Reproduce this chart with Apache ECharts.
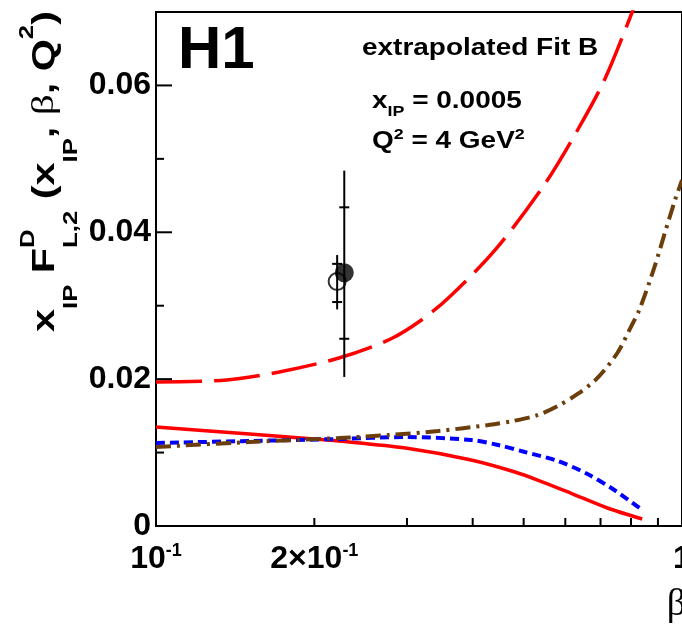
<!DOCTYPE html>
<html>
<head>
<meta charset="utf-8">
<script src="https://cdn.jsdelivr.net/npm/echarts@6/dist/echarts.min.js"></script>
<style>
  html, body { margin: 0; padding: 0; background: #fff; }
  #main { width: 682px; height: 629px; }
</style>
</head>
<body>
<div id="main"></div>
<script>
// ---- model curves: beta values and x_IP F_L,2^D ----
const redDashedBeta = [0.100, 0.1362, 0.1715, 0.2227, 0.2793, 0.3197, 0.3596, 0.4413, 0.5484, 0.6332, 0.7121, 0.8042, 0.8402];
const redDashedVal  = [0.01961, 0.01988, 0.02097, 0.02288, 0.02547, 0.02805, 0.03105, 0.03759, 0.04657, 0.05393, 0.06074, 0.0700, 0.0737];

const redSolidBeta = [0.100, 0.1506, 0.1998, 0.2227, 0.2982, 0.3973, 0.4814, 0.5436, 0.6142, 0.7214, 0.8402];
const redSolidVal  = [0.01348, 0.01253, 0.01185, 0.01158, 0.01062, 0.00899, 0.00735, 0.00599, 0.00449, 0.00245, 0.00095];

const blueDashedBeta = [0.100, 0.1506, 0.2227, 0.2982, 0.3973, 0.4471, 0.5026, 0.5804, 0.6612, 0.7437, 0.8402];
const blueDashedVal  = [0.0113, 0.01158, 0.01185, 0.01212, 0.01171, 0.01103, 0.01008, 0.00885, 0.00708, 0.0049, 0.00218];

const brownDashDotBeta = [0.100, 0.1506, 0.2227, 0.2769, 0.3442, 0.4280, 0.4772, 0.5321, 0.5804, 0.6332, 0.6908, 0.7535, 0.7975, 0.8294, 0.8853, 0.9288, 0.9701, 1.0];
const brownDashDotVal  = [0.01076, 0.01144, 0.01198, 0.01239, 0.01294, 0.01375, 0.0143, 0.01512, 0.01634, 0.01798, 0.02016, 0.02356, 0.02696, 0.02942, 0.03514, 0.04004, 0.0444, 0.0471];

// ---- measurements: [beta, value], full error range, inner (stat) error range ----
const filledPoint   = [0.228, 0.0345];
const filledErr     = [0.0203, 0.0484];
const filledStatErr = [0.0255, 0.0434];

const openPoint   = [0.221, 0.0333];
const openErr     = [0.0295, 0.0369];
const openStatErr = [0.0305, 0.0357];

// ---- axes ----
const xMin = 0.1, xMax = 1;
const yMin = 0, yMax = 0.07;
const xMinorTicks = [0.2, 0.3, 0.4, 0.5, 0.6, 0.7, 0.8, 0.9];
const yMajorTicks = [0.02, 0.04, 0.06];
const yMinorTicks = [0.01, 0.03, 0.05];
const yTickLabels = [0, 0.02, 0.04, 0.06];
const xTickLabelValues = [0.1, 0.2, 1];
const xTickLabelMantissa = ['', '2\u00d7', ''];
const xTickLabelBase = ['10', '10', '1'];
const xTickLabelExponent = ['-1', '-1', ''];

const SANS = '"Liberation Sans", Arial, Helvetica, sans-serif';
const SERIF = '"Liberation Serif", "Times New Roman", serif';

const measureCtx = document.createElement('canvas').getContext('2d');
function textWidth(t, size, weight, family) {
  measureCtx.font = weight + ' ' + size + 'px ' + family;
  return measureCtx.measureText(t).width;
}

// lay out a run of text pieces on a common baseline (y = 0), left to right
function runOfText(pieces) {
  let x = 0;
  const children = [];
  pieces.forEach(p => {
    const size = p.size;
    const fam = p.family || SANS;
    const wt = p.weight || 'bold';
    children.push({
      type: 'text',
      x: x,
      y: (p.dy || 0) - 0.35 * size,
      silent: true,
      style: {
        text: p.t,
        font: wt + ' ' + size + 'px ' + fam,
        fill: '#000',
        align: 'left', textAlign: 'left',
        verticalAlign: 'middle', textVerticalAlign: 'middle'
      }
    });
    if (!p.overlay) x += textWidth(p.t, size, wt, fam);
  });
  return { children: children, width: x };
}

const M = 32, S = 20;
const yTitle = runOfText([
  { t: 'x', size: M },
  { t: 'IP', size: S, dy: 22 },
  { t: ' ', size: M },
  { t: 'F', size: M },
  { t: 'D', size: S, dy: -21, overlay: true },
  { t: 'L,2', size: S, dy: 22 },
  { t: ' ', size: M },
  { t: '(', size: M },
  { t: 'x', size: M },
  { t: 'IP', size: S, dy: 22 },
  { t: ', ', size: M },
  { t: '\u03b2', size: M, family: SERIF, weight: 'normal' },
  { t: ', ', size: M },
  { t: 'Q', size: M },
  { t: '2', size: S, dy: -22 },
  { t: ')', size: M }
]);

const H = 23.5, h = 15;
const headLine1 = runOfText([{ t: 'extrapolated Fit B', size: H }]);
const headLine2 = runOfText([
  { t: 'x', size: H },
  { t: 'IP', size: h, dy: 7 },
  { t: ' = 0.0005', size: H }
]);
const headLine3 = runOfText([
  { t: 'Q', size: H },
  { t: '2', size: h, dy: -10 },
  { t: ' = 4 GeV', size: H },
  { t: '2', size: h, dy: -10 }
]);

function pairs(xs, ys) { return xs.map((x, i) => [x, ys[i]]); }

function tickSeries(data, dir, len) {
  return {
    type: 'custom',
    silent: true,
    z: 6,
    data: data,
    renderItem: function (params, api) {
      const p = api.coord([api.value(0), api.value(1)]);
      const shape = dir === 'x'
        ? { x1: p[0], y1: p[1], x2: p[0], y2: p[1] - len }
        : { x1: p[0], y1: p[1], x2: p[0] + len, y2: p[1] };
      return { type: 'line', shape: shape, style: { stroke: '#000', lineWidth: 2 } };
    }
  };
}

function errorBarSeries(point, err, stat, z) {
  return {
    type: 'custom',
    silent: true,
    z: z,
    data: [[point[0], err[0], err[1], stat[0], stat[1]]],
    renderItem: function (params, api) {
      const b = api.value(0);
      const lo = api.coord([b, api.value(1)]);
      const hi = api.coord([b, api.value(2)]);
      const s1 = api.coord([b, api.value(3)]);
      const s2 = api.coord([b, api.value(4)]);
      const st = { stroke: '#000', lineWidth: 2 };
      return {
        type: 'group',
        children: [
          { type: 'line', shape: { x1: lo[0], y1: lo[1], x2: hi[0], y2: hi[1] }, style: st },
          { type: 'line', shape: { x1: s1[0] - 5, y1: s1[1], x2: s1[0] + 5, y2: s1[1] }, style: st },
          { type: 'line', shape: { x1: s2[0] - 5, y1: s2[1], x2: s2[0] + 5, y2: s2[1] }, style: st }
        ]
      };
    }
  };
}

// x-axis labels of the form [mantissa]10^exp, centred on their tick
const xLabelSeries = {
  type: 'custom',
  silent: true,
  z: 6,
  data: xTickLabelValues.map(v => [v, yMin]),
  renderItem: function (params, api) {
    const i = params.dataIndex;
    const p = api.coord([api.value(0), api.value(1)]);
    const pieces = [];
    if (xTickLabelMantissa[i]) pieces.push({ t: xTickLabelMantissa[i], size: M });
    pieces.push({ t: xTickLabelBase[i], size: M });
    if (xTickLabelExponent[i]) pieces.push({ t: xTickLabelExponent[i], size: 18, dy: -13 });
    const run = runOfText(pieces);
    return { type: 'group', x: p[0] - run.width / 2, y: p[1] + 44, children: run.children };
  }
};

function curve(name, xs, ys, color, width, dash) {
  return {
    name: name, type: 'line', data: pairs(xs, ys),
    showSymbol: false, symbol: 'none', smooth: 0.3, clip: true, z: 3,
    lineStyle: { color: color, width: width, type: dash || 'solid' }
  };
}

const chart = echarts.init(document.getElementById('main'), null, { renderer: 'canvas' });

chart.setOption({
  animation: false,
  backgroundColor: '#fff',
  grid: {
    left: 156, top: 12, width: 529, height: 514,
    show: true, borderColor: '#000', borderWidth: 2, backgroundColor: 'transparent'
  },
  xAxis: {
    type: 'log', logBase: 10, min: xMin, max: xMax,
    axisLine: { show: true, lineStyle: { color: '#000', width: 2 } },
    axisTick: { show: false },
    axisLabel: { show: false },
    splitLine: { show: false }
  },
  yAxis: {
    type: 'value', min: yMin, max: yMax, interval: 0.01,
    axisLine: { show: true, lineStyle: { color: '#000', width: 2 } },
    axisTick: { show: false },
    splitLine: { show: false },
    axisLabel: {
      margin: 5,
      color: '#000',
      fontSize: 32,
      fontWeight: 'bold',
      fontFamily: SANS,
      formatter: function (v) {
        const hit = yTickLabels.find(t => Math.abs(t - v) < 1e-9);
        if (hit === undefined) return '';
        return hit === 0 ? '0' : hit.toFixed(2);
      }
    }
  },
  graphic: [
    { type: 'text', x: 178, y: 72 - 0.35 * 60, silent: true,
      style: { text: 'H1', font: 'bold 60px ' + SANS, fill: '#000',
               align: 'left', textAlign: 'left', verticalAlign: 'middle', textVerticalAlign: 'middle' } },
    { type: 'group', x: 362, y: 57, scaleX: 1.19, children: headLine1.children },
    { type: 'group', x: 372, y: 110, scaleX: 1.19, children: headLine2.children },
    { type: 'group', x: 372, y: 150, scaleX: 1.19, children: headLine3.children },
    { type: 'group', x: 56, y: 332, rotation: Math.PI / 2, scaleX: 1.29, children: yTitle.children },
    { type: 'text', x: 686, y: 618 - 0.34 * 38, silent: true,
      style: { text: '\u03b2', font: 'normal 38px ' + SERIF, fill: '#000',
               align: 'right', textAlign: 'right', verticalAlign: 'middle', textVerticalAlign: 'middle' } }
  ],
  series: [
    curve('redDashed', redDashedBeta, redDashedVal, '#ff0000', 3.5, [46, 12]),
    curve('redSolid', redSolidBeta, redSolidVal, '#ff0000', 3.5),
    curve('blueDashed', blueDashedBeta, blueDashedVal, '#0000ff', 4, [9, 5]),
    curve('brownDashDot', brownDashDotBeta, brownDashDotVal, '#6b3e0b', 4, [15, 6, 3, 6]),
    errorBarSeries(openPoint, openErr, openStatErr, 4),
    {
      name: 'open', type: 'scatter', data: [openPoint], symbol: 'circle', symbolSize: 17, z: 4,
      itemStyle: { color: 'rgba(255,255,255,0)', borderColor: '#000', borderWidth: 2 }
    },
    errorBarSeries(filledPoint, filledErr, filledStatErr, 5),
    {
      name: 'filled', type: 'scatter', data: [filledPoint], symbol: 'circle', symbolSize: 19, z: 5,
      itemStyle: { color: '#000' }
    },
    tickSeries(xMinorTicks.map(v => [v, yMin]), 'x', 8),
    tickSeries(yMajorTicks.map(v => [xMin, v]), 'y', 16),
    tickSeries(yMinorTicks.map(v => [xMin, v]), 'y', 8),
    xLabelSeries
  ]
});
</script>
</body>
</html>
